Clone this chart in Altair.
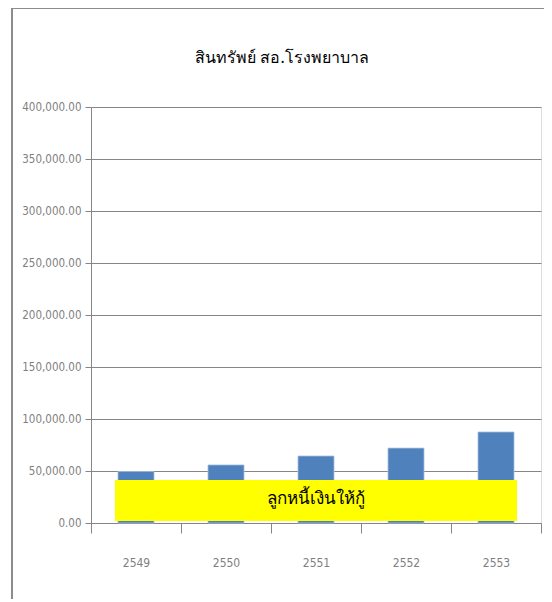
import altair as alt
import pandas as pd

years = ["2549", "2550", "2551", "2552", "2553"]
values = [49500, 55800, 64400, 72000, 87500]
title_text = "สินทรัพย์ สอ.โรงพยาบาล"
box_label = "ลูกหนี้เงินให้กู้"

df = pd.DataFrame({"year": years, "value": values})

W, H = 450, 416
grey = "#868686"
label_grey = "#7f7f7f"
axis_font = "DejaVu Sans Condensed, Liberation Sans Narrow, Liberation Sans, sans-serif"

base = alt.Chart(df)

bars = base.mark_bar(size=36, color="#4F81BD", stroke="#A7BFDE", strokeWidth=0.8).encode(
    x=alt.X("year:N", title=None, sort=years,
            scale=alt.Scale(paddingInner=0, paddingOuter=0),
            axis=alt.Axis(labelAngle=0, tickBand="extent", tickSize=10,
                          labelPadding=24, labelColor=label_grey, labelFontSize=12,
                          labelFont=axis_font,
                          domainColor=grey, tickColor=grey, grid=False)),
    y=alt.Y("value:Q", title=None,
            scale=alt.Scale(domain=[0, 400000]),
            axis=alt.Axis(values=list(range(0, 400001, 50000)), format=",.2f",
                          tickSize=6, labelPadding=4, labelColor=label_grey,
                          labelFontSize=11.5, labelFont=axis_font,
                          domainColor=grey, tickColor=grey, gridColor=grey,
                          gridWidth=1, gridOpacity=1)),
)

box = alt.Chart(pd.DataFrame({"t": [box_label]})).mark_rect(color="#FFFF00").encode(
    x=alt.value(24), x2=alt.value(426), y=alt.value(373), y2=alt.value(414)
)
box_text = alt.Chart(pd.DataFrame({"t": [box_label]})).mark_text(
    fontSize=17, color="black", font="Noto Sans", baseline="middle", align="center"
).encode(text="t:N", x=alt.value(225), y=alt.value(392))

title = alt.Chart(pd.DataFrame({"t": [title_text]})).mark_text(
    fontSize=16, color="black", font="Noto Sans", baseline="middle", align="center"
).encode(text="t:N", x=alt.value(191), y=alt.value(-49))

frame = alt.Chart(pd.DataFrame({"t": [1]})).mark_rect(
    fill=None, stroke="#8c8c8c", strokeWidth=2, clip=False
).encode(x=alt.value(-79), x2=alt.value(458), y=alt.value(-99), y2=alt.value(700))

chart = alt.layer(frame, bars, box, box_text, title).properties(
    width=W, height=H,
    autosize=alt.AutoSizeParams(type="none"),
    padding={"left": 83, "top": 99, "right": 3, "bottom": 76},
).configure_view(stroke=None).configure(background="white")

chart.save("out.html", embed_options={"renderer": "svg", "actions": False})
